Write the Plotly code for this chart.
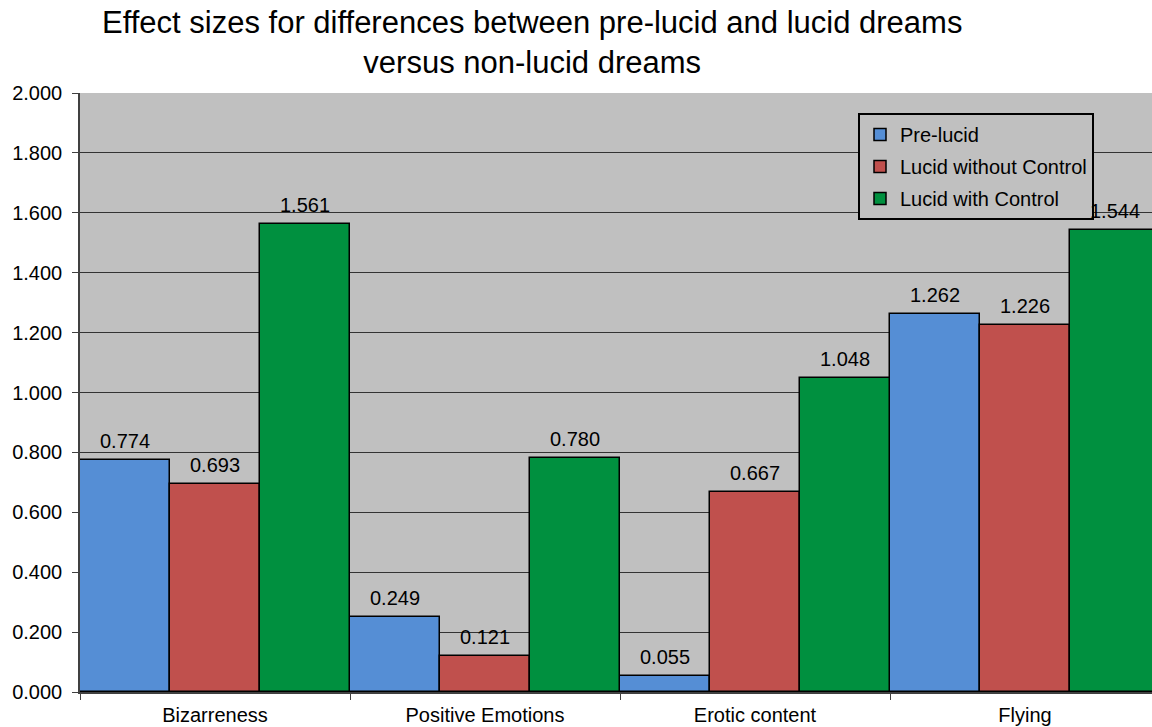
import plotly.graph_objects as go

categories = ["Bizarreness", "Positive Emotions", "Erotic content", "Flying"]
series_names = ["Pre-lucid", "Lucid without Control", "Lucid with Control"]
pre_lucid = [0.774, 0.249, 0.055, 1.262]
lucid_without_control = [0.693, 0.121, 0.667, 1.226]
lucid_with_control = [1.561, 0.780, 1.048, 1.544]
y_ticks = [0.0, 0.2, 0.4, 0.6, 0.8, 1.0, 1.2, 1.4, 1.6, 1.8, 2.0]

colors = ["#558ED5", "#C0504D", "#00903F"]
series_values = [pre_lucid, lucid_without_control, lucid_with_control]
FONT = "Liberation Sans, Arial, sans-serif"
FS = 20

fig = go.Figure()
for name, vals, col in zip(series_names, series_values, colors):
    fig.add_trace(go.Bar(
        x=categories, y=vals, name=name, legendgroup=name,
        marker=dict(color=col, line=dict(color="#000000", width=1.5)),
    ))

# value labels above each bar, placed at the grouped-bar offsets
n = len(series_values)
for k, vals in enumerate(series_values):
    offset = (k - (n - 1) / 2) / n
    for i, v in enumerate(vals):
        fig.add_annotation(
            x=i + offset, y=v, text=f"{v:.3f}", showarrow=False,
            yanchor="bottom", yshift=6,
            font=dict(family=FONT, size=FS, color="#000000"),
        )

# two-line chart title
fig.add_annotation(
    text="Effect sizes for differences between pre-lucid and lucid dreams<br>versus non-lucid dreams",
    xref="paper", yref="paper",
    x=(532 - 80) / 1072, y=(692 - 43) / 599,
    xanchor="center", yanchor="middle", showarrow=False,
    font=dict(family=FONT, size=31, color="#000000"),
)

fig.update_layout(
    width=1152, height=727,
    margin=dict(l=80, r=0, t=93, b=35),
    paper_bgcolor="#FFFFFF", plot_bgcolor="#C0C0C0",
    barmode="group", bargap=0, bargroupgap=0,
    font=dict(family=FONT, size=FS, color="#000000"),
    legend=dict(
        x=(858 - 80) / 1072, y=(692 - 113) / 599, xanchor="left", yanchor="top",
        bgcolor="#C0C0C0", bordercolor="#000000", borderwidth=2,
        font=dict(family=FONT, size=FS, color="#000000"),
        traceorder="grouped", tracegroupgap=3,
    ),
    xaxis=dict(
        type="category", range=[-0.5, -0.5 + 1072 / 270],
        showline=True, linecolor="#404040", linewidth=1.5,
        ticks="outside", tickson="boundaries", ticklen=6, tickcolor="#404040",
        ticklabelstandoff=4,
        showgrid=False, tickfont=dict(family=FONT, size=FS),
    ),
    yaxis=dict(
        range=[0, 2], tickvals=y_ticks, tickformat=".3f",
        showline=True, linecolor="#404040", linewidth=1.5,
        ticks="outside", ticklen=6, tickcolor="#404040",
        ticklabelstandoff=6,
        showgrid=True, gridcolor="#333333", gridwidth=1,
        zeroline=False, tickfont=dict(family=FONT, size=FS),
    ),
)

fig.write_html("out.html")
